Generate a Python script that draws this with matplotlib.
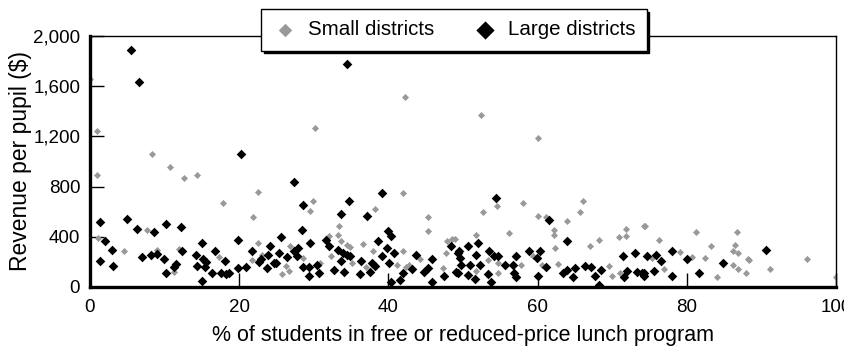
import matplotlib
matplotlib.use("Agg")
import matplotlib.pyplot as plt

plt.rcParams['font.family'] = ['Liberation Sans', 'DejaVu Sans']

# small districts (gray)
small_x = [0, 0, 1, 1, 8.3, 10.7, 12.6, 14.4, 30.2, 42.2, 52.4, 60,
           17.8, 22.5, 21.9, 22.5, 1.1, 4.6, 7.7, 9, 11.9, 11.3, 17.3, 21.7, 23.1,
           29.9, 29.5, 33.4, 33.2, 32.1, 33.6, 34.5, 34.9, 32.3, 35.1, 36.6, 38.2, 41.9, 41.9,
           37.9, 37, 41.1, 42.4, 42.8, 44.2, 45.3, 45.3, 47.9, 48.5, 47.7, 47.3, 25.7, 26.3,
           26.7, 28.6, 30.8, 26.8,
           54.6, 52.7, 58.1, 66.1, 65.7, 60.1, 61.1, 64, 62.2, 62.2, 56.2, 51.8, 62.3, 67,
           68.3, 71.9, 71.8, 70.9, 74.2, 53.4, 54.7, 51.8, 57, 57.8, 59.4, 60.6, 62.8, 69.6,
           70, 71, 54.7, 48.9,
           74.4, 76.3, 81.3, 86.7, 83.2, 86.4, 86.2, 86.8, 88.2, 88.4, 79.1, 80.7, 82.4, 75.3,
           76.9, 86.2, 86.9, 87.9, 84.1, 91.2, 96.1, 100]
small_y = [2000, 1660, 1240, 890, 1060, 955, 865, 890, 1270, 1510, 1370, 1190,
           670, 760, 555, 350, 390, 290, 455, 296, 300, 123, 235, 216, 256,
           683, 608, 488, 411, 408, 363, 336, 315, 248, 189, 344, 621, 749, 288,
           283, 163, 176, 157, 176, 221, 555, 443, 363, 381, 269, 149, 104, 168,
           131, 229, 189, 323,
           643, 595, 669, 683, 595, 568, 555, 528, 456, 411, 429, 413, 309, 328,
           376, 464, 403, 397, 488, 216, 189, 131, 237, 176, 248, 176, 184, 168,
           88, 109, 115, 381,
           488, 376, 437, 437, 323, 336, 283, 269, 221, 216, 275, 237, 229, 229,
           141, 176, 141, 115, 77, 141, 221, 77]

# large districts (black)
large_x = [5.5, 6.6, 34.5, 20.3,
           1.3, 5, 6.3, 8.6, 10.2, 12.2, 2, 2.9, 1.3, 3.1, 7, 8.2, 9, 9.9, 10.2, 11.3, 11.5,
           12.4, 14.2, 15, 16.8, 15.2, 14.4, 15.4, 15.6, 16.4, 15, 18.1, 17.6, 18.3, 18.6,
           19.9, 19.9, 20.9, 21.7, 22.6, 22.9, 23.8, 24.1, 23.7, 24.7,
           27.3, 28.6, 34.7, 33.6, 37.1, 39.2, 28.4, 25.6, 25.4, 24.9, 26.4, 27.3, 27.9, 27.7,
           29.5, 28.6, 29.4, 29.4, 30.4, 30.7, 31.6, 32, 32.7, 33.2, 33.9, 33.6, 34, 34.5,
           34.9, 36.3, 36.2, 37.8, 37.5, 38.2, 38.6, 39.1, 39.8, 39.9, 40.3, 40.7, 40.1, 40.3,
           41.6, 41.9, 43.2, 43.7, 44.8, 45.3, 45.8, 45.8, 47.5, 48.4, 49.3, 49.1,
           54.4, 61.5, 64, 50.7, 52, 49.4, 49.6, 51.8, 49.8, 50.9, 49.3, 50.7, 51.6, 52.3,
           53.5, 54.1, 54.7, 53.4, 53.8, 55.6, 56.7, 57.1, 56.9, 57.1, 58.9, 60.3, 59.9, 61.1,
           60.1, 63.4, 63.9, 65, 64.8, 66.4, 67.2, 67.7, 68.5, 68.3, 71.4, 73.1, 71.6, 72,
           73.3, 74,
           74.7, 75.9, 76.5, 74.2, 74.3, 75.6, 78, 78, 80, 81.7, 84.8, 90.6]
large_y = [1890, 1630, 1780, 1056,
           520, 544, 464, 440, 504, 475, 363, 296, 208, 168, 235, 256, 264, 224, 115, 163, 184,
           283, 256, 350, 288, 224, 168, 160, 200, 115, 48, 208, 115, 104, 112,
           376, 155, 163, 283, 200, 224, 256, 323, 155, 192,
           837, 656, 683, 581, 568, 749, 451, 397, 269, 189, 237, 288, 309, 248,
           349, 163, 157, 88, 176, 115, 376, 323, 136, 296, 269, 211, 123, 256,
           243, 211, 104, 189, 123, 168, 363, 248, 309, 443, 408, 269, 189, 43,
           56, 115, 141, 256, 123, 149, 221, 43, 88, 323, 269, 123,
           709, 531, 363, 323, 349, 283, 229, 256, 176, 176, 115, 96, 61, 176,
           283, 248, 243, 104, 37, 176, 176, 243, 109, 77, 283, 288, 229, 157,
           88, 115, 136, 149, 77, 168, 163, 88, 136, 16, 243, 269, 83, 131,
           123, 115,
           243, 256, 208, 115, 88, 131, 288, 88, 221, 115, 189, 296]

fig = plt.figure(figsize=(8.44, 3.52), dpi=100)
ax = fig.add_axes([0.1066, 0.1847, 0.8839, 0.713])

ax.scatter(small_x, small_y, marker='D', s=13, color='#999999', linewidths=0,
           label='Small districts', zorder=2)
ax.scatter(large_x, large_y, marker='D', s=24, color='black', linewidths=0,
           label='Large districts', zorder=3)

ax.set_xlim(0, 100)
ax.set_ylim(0, 2000)
ax.set_xticks([0, 20, 40, 60, 80, 100])
ax.set_yticks([0, 400, 800, 1200, 1600, 2000])
ax.set_yticklabels(['0', '400', '800', '1,200', '1,600', '2,000'])
ax.tick_params(direction='in', length=10, width=1, labelsize=13.5, color='black')
ax.tick_params(axis='x', pad=9)
ax.tick_params(axis='y', pad=7)

for side in ['left', 'bottom']:
    ax.spines[side].set_linewidth(2.4)
for side in ['top', 'right']:
    ax.spines[side].set_linewidth(1)

ax.set_xlabel('% of students in free or reduced-price lunch program', fontsize=15.5, labelpad=6)
ax.set_ylabel('Revenue per pupil ($)', fontsize=16.5, labelpad=0.5)

leg = ax.legend(loc='center', bbox_to_anchor=(0.488, 1.025), ncol=2, fontsize=14.8,
                frameon=True, fancybox=False, framealpha=1, edgecolor='black',
                shadow={'color': 'black', 'alpha': 1}, markerscale=1.9,
                handlelength=1.2, handletextpad=0.5, columnspacing=1.9, borderpad=0.55)
leg.get_frame().set_linewidth(1)
leg.set_zorder(5)

fig.savefig('out.png', dpi=100)
